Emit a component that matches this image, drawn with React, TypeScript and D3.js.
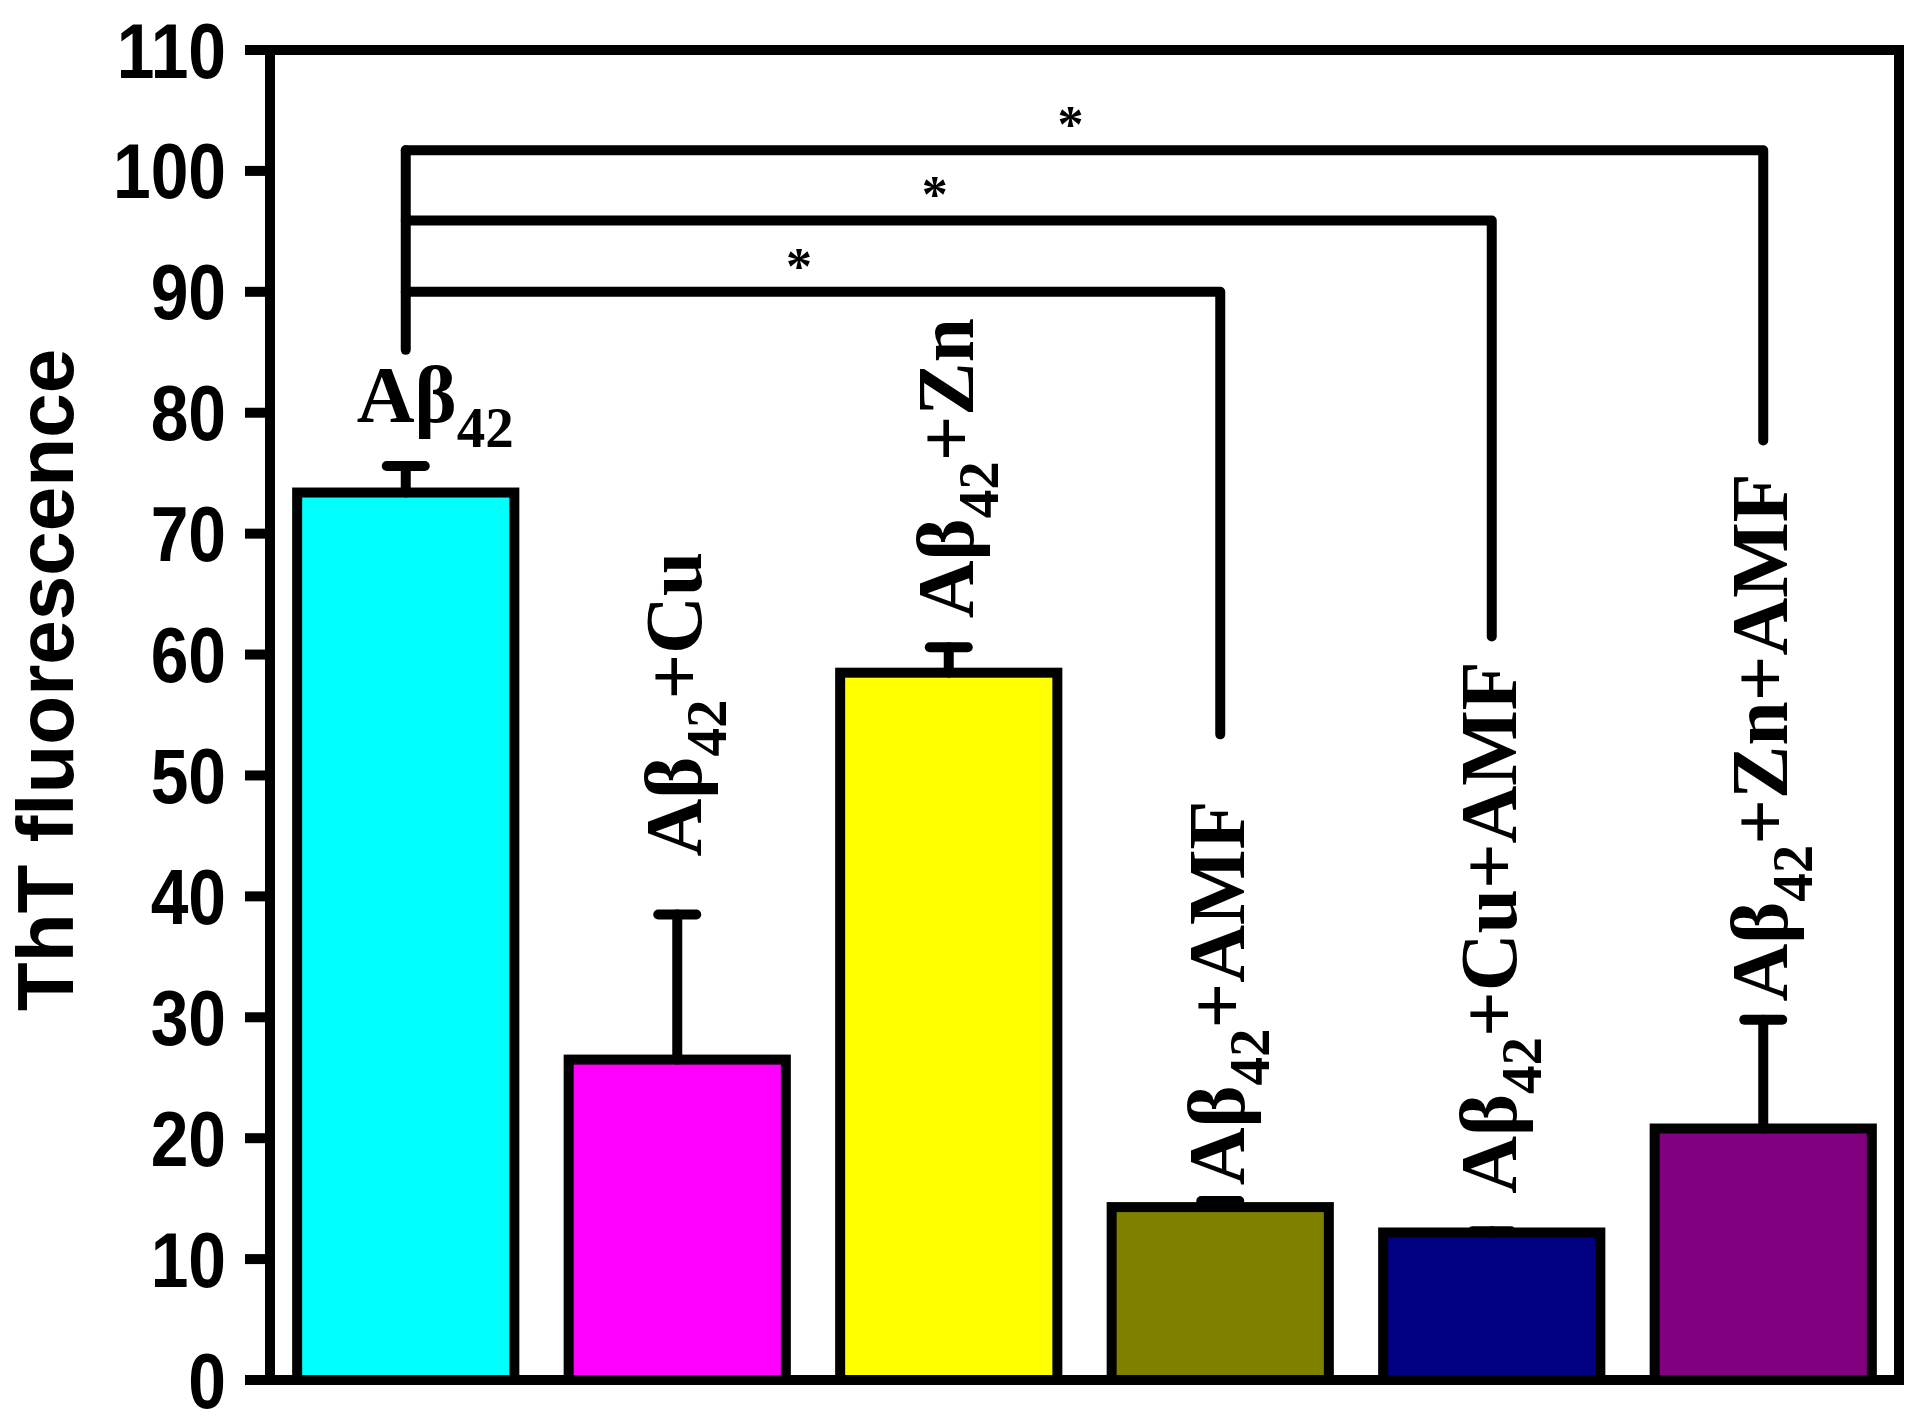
import React from "react";
import * as d3 from "d3";

// categories (label suffix after "Aβ42")
const categories = ["Aβ42", "Aβ42+Cu", "Aβ42+Zn", "Aβ42+AMF", "Aβ42+Cu+AMF", "Aβ42+Zn+AMF"];
const suffixes = ["", "+Cu", "+Zn", "+AMF", "+Cu+AMF", "+Zn+AMF"];
const means = [73.4, 26.5, 58.5, 14.3, 12.2, 20.8];
const errors = [2.2, 12.0, 2.1, 0.5, 0.1, 9.0];
const colors = ["#00FFFF", "#FF00FF", "#FFFF00", "#808000", "#000080", "#800080"];
const yTicks = [0, 10, 20, 30, 40, 50, 60, 70, 80, 90, 100, 110];
// where each group label starts (value units)
const labelAt = [79.2, 43.3, 63.0, 16.1, 15.4, 31.3];

// significance brackets from the first group
const bracketFrom = 0;
const bracketLow = 85.2;
const bracketTo = [3, 4, 5];
const bracketLevel = [90.0, 95.9, 101.7];
const bracketDrop = [53.4, 61.5, 77.7];

const W = 1920;
const H = 1421;
const margin = { top: 50, right: 21, bottom: 41, left: 270 };

const sans = "'Liberation Sans', Arial, sans-serif";
const serif = "'Liberation Serif', 'Times New Roman', serif";

export default function App() {
  const x = d3
    .scaleBand<string>()
    .domain(categories)
    .range([margin.left, W - margin.right])
    .paddingInner(0.2)
    .paddingOuter(0.1);
  const y = d3.scaleLinear().domain([0, 110]).range([H - margin.bottom, margin.top]);
  const cx = (i: number) => (x(categories[i]) as number) + x.bandwidth() / 2;

  const lw = 10;
  const x0 = cx(bracketFrom);

  return (
    <svg
      width={W}
      height={H}
      style={{ position: "absolute", left: 0, top: 0, background: "#fff" }}
    >
      {/* bars */}
      {categories.map((c, i) => (
        <rect
          key={c}
          x={x(c)}
          y={y(means[i])}
          width={x.bandwidth()}
          height={y(0) - y(means[i])}
          fill={colors[i]}
          stroke="#000"
          strokeWidth={lw}
        />
      ))}

      {/* error bars (upper only) */}
      {categories.map((c, i) => (
        <g key={"e" + c} stroke="#000" strokeWidth={lw} strokeLinecap="round">
          <line x1={cx(i)} x2={cx(i)} y1={y(means[i])} y2={y(means[i] + errors[i])} />
          <line x1={cx(i) - 19} x2={cx(i) + 19} y1={y(means[i] + errors[i])} y2={y(means[i] + errors[i])} />
        </g>
      ))}

      {/* frame */}
      <rect
        x={margin.left}
        y={margin.top}
        width={W - margin.right - margin.left}
        height={H - margin.bottom - margin.top}
        fill="none"
        stroke="#000"
        strokeWidth={lw}
      />

      {/* y ticks */}
      {yTicks.map((t) => (
        <g key={t}>
          <line x1={margin.left - 25} x2={margin.left} y1={y(t)} y2={y(t)} stroke="#000" strokeWidth={lw} />
          <text
            transform={`translate(226,${y(t) + 27.5}) scale(0.88,1)`}
            textAnchor="end"
            fontFamily={sans}
            fontWeight="bold"
            fontSize={77}
          >
            {t}
          </text>
        </g>
      ))}

      <text
        transform={`translate(73,680) rotate(-90)`}
        textAnchor="middle"
        fontFamily={sans}
        fontWeight="bold"
        fontSize={80}
      >
        ThT fluorescence
      </text>

      {/* brackets */}
      <g fill="none" stroke="#000" strokeWidth={lw} strokeLinecap="round" strokeLinejoin="round">
        <line x1={x0} x2={x0} y1={y(bracketLow)} y2={y(d3.max(bracketLevel) as number)} />
        {bracketTo.map((t, k) => (
          <path
            key={t}
            d={`M${x0},${y(bracketLevel[k])}H${cx(t)}V${y(bracketDrop[k])}`}
          />
        ))}
      </g>
      {bracketTo.map((t, k) => (
        <text
          key={"s" + t}
          x={(x0 + cx(t)) / 2 - 14}
          y={y(bracketLevel[k]) - 8}
          textAnchor="middle"
          fontFamily={serif}
          fontWeight="bold"
          fontSize={52}
        >
          *
        </text>
      ))}

      {/* group labels */}
      {categories.map((c, i) => {
        const content = [
          <tspan key="a">Aβ</tspan>,
          <tspan key="b" fontSize={57} dy={25}>42</tspan>,
          <tspan key="c" dy={-25}>{suffixes[i]}</tspan>,
        ];
        if (i === 0) {
          return (
            <text
              key={"l" + c}
              x={cx(i) - 49}
              y={y(labelAt[i])}
              fontFamily={serif}
              fontWeight="bold"
              fontSize={80}
            >
              {content}
            </text>
          );
        }
        return (
          <text
            key={"l" + c}
            transform={`translate(${cx(i) + 24},${y(labelAt[i])}) rotate(-90)`}
            fontFamily={serif}
            fontWeight="bold"
            fontSize={80}
          >
            {content}
          </text>
        );
      })}
    </svg>
  );
}
